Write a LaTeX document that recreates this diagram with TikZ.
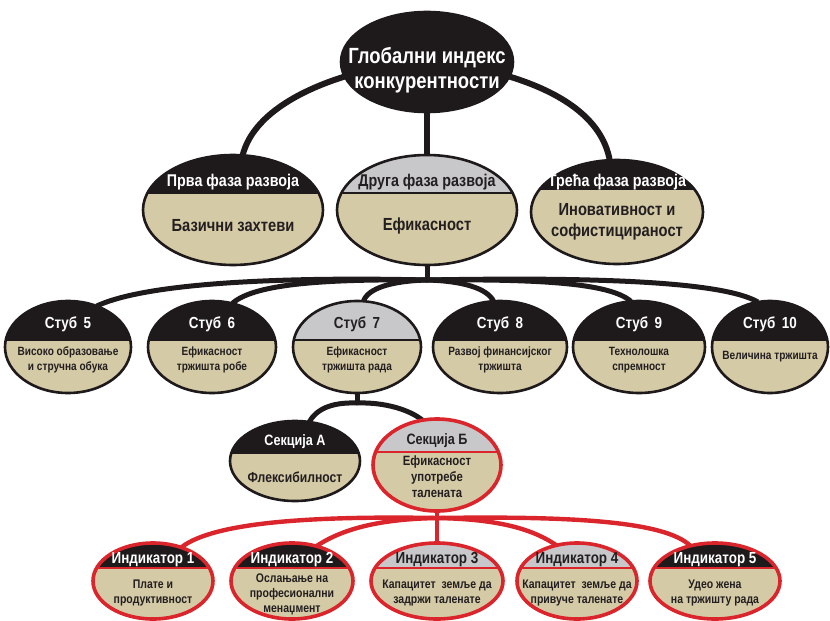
\documentclass[tikz,border=0pt]{standalone}
\usepackage{fontspec}
\setmainfont{Liberation Sans}[FakeStretch=0.84]
\usetikzlibrary{shapes.geometric,backgrounds}
\definecolor{ink}{HTML}{1E1A1B}
\definecolor{hgray}{HTML}{C8C8CA}
\definecolor{tan}{HTML}{D5CAA6}
\definecolor{rd}{HTML}{D9252B}
\definecolor{dtext}{HTML}{231F20}
\tikzset{
  oval/.style={ellipse, inner sep=0pt, outer sep=0pt, fill=tan, draw=ink, line width=2.6pt},
  redoval/.style={oval, draw=rd, line width=3.6pt},
  hdr/.style n args={3}{path picture={
    \fill[#1] ([yshift=#2pt]path picture bounding box.west) rectangle ([yshift=5pt]path picture bounding box.north east);
    \draw[#3, line width=2.2pt] ([yshift=#2pt]path picture bounding box.west) -- ([yshift=#2pt]path picture bounding box.east);}},
  fs/.style 2 args={font=\fontsize{#1}{#2}\selectfont\bfseries},
  txt/.style={inner sep=0pt, align=center, text=dtext},
  wtxt/.style={txt, text=white},
  link/.style={draw=ink, line width=5pt},
  toplink/.style={draw=ink, line width=6pt},
  rlink/.style={draw=rd, line width=4.4pt},
}
\begin{document}
\begin{tikzpicture}[x=1pt,y=-1pt]
\useasboundingbox (0,0) rectangle (830,621);
% level 1
\node[oval, fill=ink, minimum width=172pt, minimum height=100pt] (T) at (427,62) {};
\node[wtxt, fs={22}{25}] (Tt) at (427,70) {Глобални индекс\\конкурентности};
% level 2
\node[oval, minimum width=180pt, minimum height=110pt, hdr={ink}{17}{ink}] (P1) at (233,210) {};
\node[wtxt, fs={17}{20}] (P1t) at (233,182) {Прва фаза развоја};
\node[txt, fs={17.5}{20}] (P1b) at (233,226) {Базични захтеви};
\node[oval, minimum width=180pt, minimum height=110pt, hdr={hgray}{17}{ink}] (P2) at (427,210) {};
\node[txt, fs={17}{20}] (P2t) at (427,182) {Друга фаза развоја};
\node[txt, fs={17.5}{20}] (P2b) at (427,226) {Ефикасност};
\node[oval, minimum width=172pt, minimum height=104pt, hdr={ink}{23}{ink}] (P3) at (617,212) {};
\node[wtxt, fs={17}{20}] (P3t) at (617,182) {Трећа фаза развоја};
\node[txt, fs={17.5}{21}] (P3b) at (617,222) {Иновативност и\\софистицираност};
% level 3
\node[oval, minimum width=126pt, minimum height=92pt, hdr={ink}{7}{ink}] (S5) at (68,347) {};
\node[wtxt, fs={16}{19}] (S5t) at (68,324) {Стуб\,\ 5};
\node[txt, fs={12}{15}] (S5b) at (68,360) {Високо образовање\\и стручна обука};
\node[oval, minimum width=128pt, minimum height=92pt, hdr={ink}{7}{ink}] (S6) at (212,347) {};
\node[wtxt, fs={16}{19}] (S6t) at (212,324) {Стуб\,\ 6};
\node[txt, fs={12}{15}] (S6b) at (212,360) {Ефикасност\\тржишта робе};
\node[oval, minimum width=128pt, minimum height=92pt, hdr={hgray}{7}{ink}] (S7) at (357,347) {};
\node[txt, fs={16}{19}] (S7t) at (357,324) {Стуб\,\ 7};
\node[txt, fs={12}{15}] (S7b) at (357,360) {Ефикасност\\тржишта рада};
\node[oval, minimum width=134pt, minimum height=92pt, hdr={ink}{7}{ink}] (S8) at (500,347) {};
\node[wtxt, fs={16}{19}] (S8t) at (500,324) {Стуб\,\ 8};
\node[txt, fs={12}{15}] (S8b) at (500,360) {Развој финансијског\\тржишта};
\node[oval, minimum width=132pt, minimum height=92pt, hdr={ink}{7}{ink}] (S9) at (639,347) {};
\node[wtxt, fs={16}{19}] (S9t) at (639,324) {Стуб\,\ 9};
\node[txt, fs={12}{15}] (S9b) at (639,360) {Технолошка\\спремност};
\node[oval, minimum width=116pt, minimum height=92pt, hdr={ink}{7}{ink}] (S10) at (770,347) {};
\node[wtxt, fs={16}{19}] (S10t) at (770,324) {Стуб\,\ 10};
\node[txt, fs={12}{15}] (S10b) at (770,357) {Величина тржишта};
% level 4
\node[oval, minimum width=130pt, minimum height=80pt, hdr={ink}{8}{ink}] (SA) at (295,461) {};
\node[wtxt, fs={15}{18}] (SAt) at (295,442) {Секција А};
\node[txt, fs={14.5}{17}] (SAb) at (295,477) {Флексибилност};
\node[redoval, minimum width=128pt, minimum height=92pt, hdr={hgray}{13}{rd}] (SB) at (437,465) {};
\node[txt, fs={15}{18}] (SBt) at (437,441) {Секција Б};
\node[txt, fs={13.5}{16}] (SBb) at (437,477) {Ефикасност\\употребе\\талената};
% level 5
\node[redoval, minimum width=120pt, minimum height=76pt, hdr={ink}{13}{rd}] (I1) at (153,581) {};
\node[wtxt, fs={16}{18}] (I1t) at (153,560) {Индикатор 1};
\node[txt, fs={12.5}{15}] (I1b) at (153,593) {Плате и\\продуктивност};
\node[redoval, minimum width=122pt, minimum height=76pt, hdr={ink}{13}{rd}] (I2) at (292,581) {};
\node[wtxt, fs={16}{18}] (I2t) at (292,560) {Индикатор 2};
\node[txt, fs={12.5}{15}] (I2b) at (292,594) {Ослањање на\\професионални\\менаџмент};
\node[redoval, minimum width=132pt, minimum height=76pt, hdr={hgray}{13}{rd}] (I3) at (437,581) {};
\node[txt, fs={16}{18}] (I3t) at (437,560) {Индикатор 3};
\node[txt, fs={12.5}{15}] (I3b) at (437,593) {Капацитет\ \ земље да\\задржи таленате};
\node[redoval, minimum width=120pt, minimum height=76pt, hdr={hgray}{13}{rd}] (I4) at (577,581) {};
\node[txt, fs={16}{18}] (I4t) at (577,560) {Индикатор 4};
\node[txt, fs={12.5}{15}] (I4b) at (577,593) {Капацитет\ \ земље да\\привуче таленате};
\node[redoval, minimum width=130pt, minimum height=76pt, hdr={ink}{13}{rd}] (I5) at (715,581) {};
\node[wtxt, fs={16}{18}] (I5t) at (715,560) {Индикатор 5};
\node[txt, fs={12.5}{15}] (I5b) at (715,593) {Удео жена\\на тржишту рада};
% junctions
\coordinate (J1) at (427,280);
\coordinate (J2) at (357,403);
\coordinate (J3) at (437,518);
\begin{scope}[on background layer]
\draw[toplink] (T.190) .. controls (295,92) and (252,118) .. (P1.80);
\draw[toplink] (T.-10) .. controls (560,92) and (602,118) .. (P3.98);
\draw[toplink] (T.south) -- (P2.north);
\draw[link] (P2.south) -- (J1);
\draw[link] (J1) .. controls (300,277) and (150,281) .. (S5.55);
\draw[link] (J1) .. controls (330,279) and (255,283) .. (S6.65);
\draw[link] (J1) .. controls (392,281) and (368,288) .. (S7.82);
\draw[link] (J1) .. controls (462,281) and (487,288) .. (S8.98);
\draw[link] (J1) .. controls (540,279) and (610,283) .. (S9.100);
\draw[link] (J1) .. controls (590,277) and (722,281) .. (S10.105);
\draw[link] (S7.south) -- (J2);
\draw[link] (J2) .. controls (330,402) and (316,410) .. (SA.70);
\draw[link] (J2) .. controls (385,402) and (410,410) .. (SB.108);
\draw[rlink] (SB.south) -- (I3.north);
\draw[rlink] (J3) .. controls (320,516) and (215,521) .. (I1.50);
\draw[rlink] (J3) .. controls (385,519) and (345,527) .. (I2.55);
\draw[rlink] (J3) .. controls (492,519) and (530,527) .. (I4.120);
\draw[rlink] (J3) .. controls (570,516) and (665,521) .. (I5.125);
\end{scope}
\end{tikzpicture}
\end{document}
